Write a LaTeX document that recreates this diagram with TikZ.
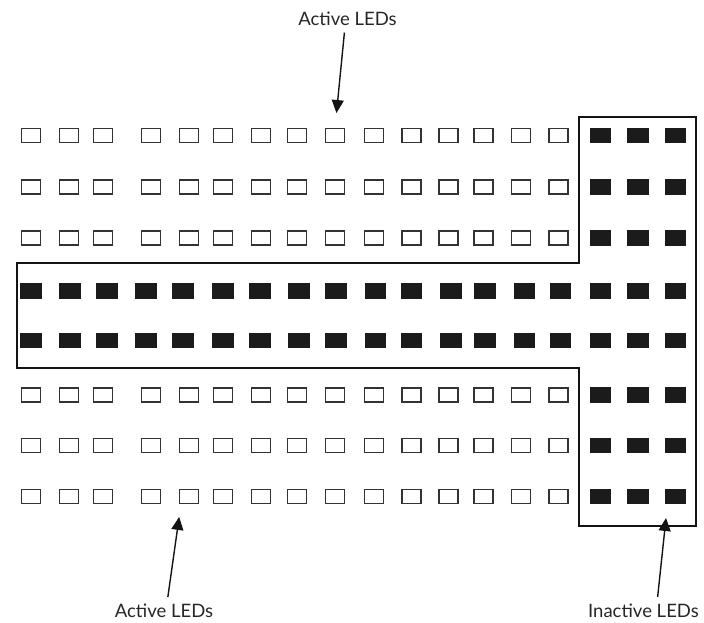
\documentclass[tikz,border=0pt]{standalone}
\usepackage{fontspec}
\setmainfont{Lato}
\usepackage{xcolor}
\definecolor{cLine}{HTML}{141414}
\definecolor{cLed}{HTML}{1B1B1B}
\definecolor{cEdge}{HTML}{333333}
\usetikzlibrary{arrows.meta}
\tikzset{
  led-on/.style={draw=cLed,fill=cLed,line width=0.6pt,inner sep=0pt,
    minimum width=20.5pt,minimum height=14.5pt},
  led-off/.style={draw=cEdge,fill=white,line width=1.1pt,inner sep=0pt,
    minimum width=19pt,minimum height=14pt},
  zone/.style={draw=cLine,line width=1.5pt},
  arrow/.style={-{Triangle[length=13pt,width=12pt]},line width=1.4pt,draw=cLine},
  label-text/.style={font=\fontsize{18.5}{22}\selectfont,inner sep=1pt,text=black!85},
}

\begin{document}
\begin{tikzpicture}[x=1pt,y=-1pt]
  \useasboundingbox (0,0) rectangle (704,622);

  % rows with active LEDs on the left
  \foreach \r/\y in {1/135.5,2/187,3/238,6/395,7/445.5,8/496.5}{
    \foreach \x [count=\c] in {31,69,103,151,189,223,261,297,335,374,411.5,448.5,483.5,521,558.5}
      \node[led-off] (led-\r-\c) at (\x,\y) {};
    \foreach \x [count=\c from 16] in {600.5,638,675.5}
      \node[led-on] (led-\r-\c) at (\x,\y) {};
  }
  % middle rows: all inactive
  \foreach \r/\y in {4/291,5/340.5}
    \foreach \x [count=\c] in {31,70,107,146,183,223,260,299,336,375.5,411.5,451,485,524.5,560.5,600.5,638,675.5}
      \node[led-on] (led-\r-\c) at (\x,\y) {};

  % outline of the inactive zone
  \draw[zone] (579,117) -- (696,117) -- (696,526) -- (579,526) -- (579,368)
    -- (17,368) -- (17,263) -- (579,263) -- cycle;

  \node[label-text] (lbl-top) at (347.5,18.5) {Active LEDs};
  \node[label-text] (lbl-left) at (164,611) {Active LEDs};
  \node[label-text] (lbl-right) at (643.5,611) {Inactive LEDs};

  \draw[arrow,shorten <=6pt,shorten >=15pt] ([xshift=-2.5pt]lbl-top.south) -- (led-1-9.north);
  \draw[arrow,shorten <=6pt,shorten >=13pt] ([xshift=3pt]lbl-left.north) -- ([xshift=-8pt]led-8-5.south);
  \draw[arrow,shorten <=6pt,shorten >=14pt] ([xshift=13.5pt]lbl-right.north) -- ([xshift=-8pt]led-8-18.south);
\end{tikzpicture}
\end{document}
